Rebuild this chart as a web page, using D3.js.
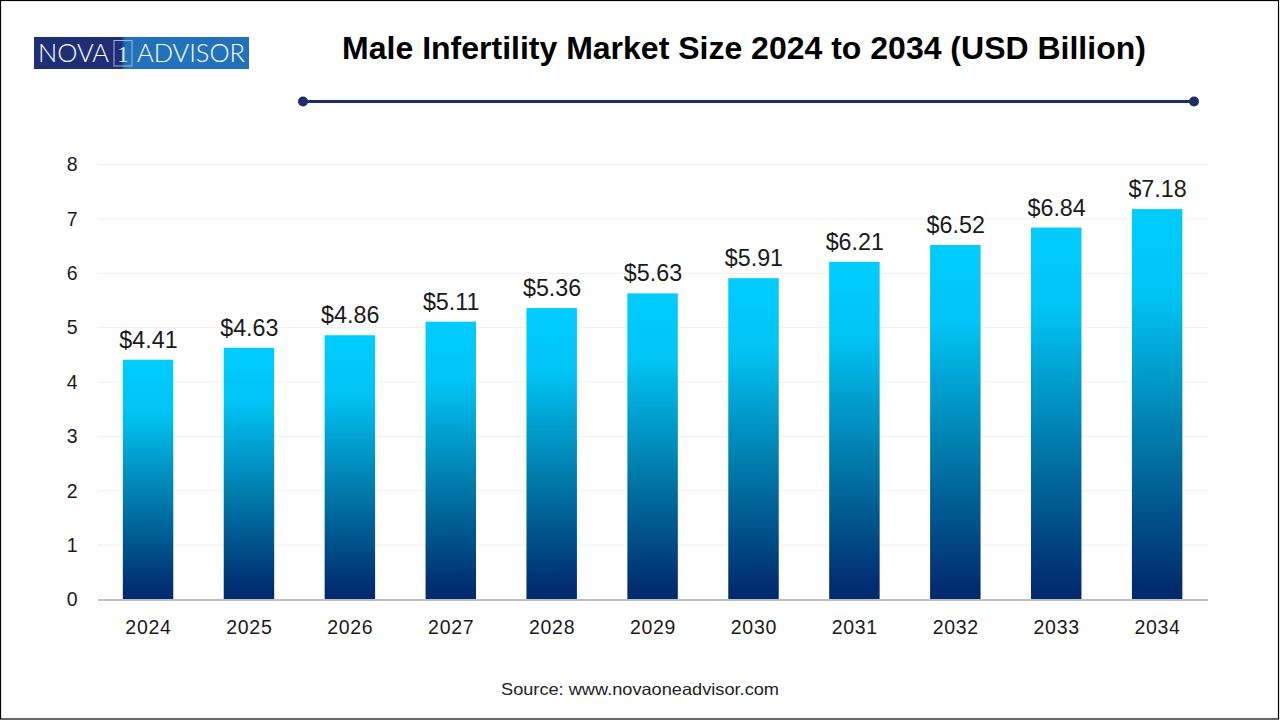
<!DOCTYPE html>
<html><head><meta charset="utf-8">
<script src="https://cdn.jsdelivr.net/npm/d3@7"></script>
<style>html,body{margin:0;padding:0;background:#fff}svg{display:block}</style>
</head><body><svg id="c" width="1280" height="720"></svg>
<script>
const years=["2024","2025","2026","2027","2028","2029","2030","2031","2032","2033","2034"];
const values=[4.41,4.63,4.86,5.11,5.36,5.63,5.91,6.21,6.52,6.84,7.18];
const yTicks=[0,1,2,3,4,5,6,7,8];
const title="Male Infertility Market Size 2024 to 2034 (USD Billion)";
const source="Source: www.novaoneadvisor.com";
const font="Liberation Sans, Arial, sans-serif";

const svg=d3.select("#c");
const defs=svg.append("defs");
const g=defs.append("linearGradient").attr("id","bar").attr("x1",0).attr("x2",0).attr("y1",0).attr("y2",1);
[[0,"#00ccff"],[0.22,"#00c4f4"],[0.6,"#0078a8"],[0.97,"#012b6f"],[1,"#012b6f"]].forEach(s=>g.append("stop").attr("offset",s[0]).attr("stop-color",s[1]));
const lg=defs.append("linearGradient").attr("id","logo").attr("x1",0).attr("x2",1).attr("y1",0).attr("y2",0);
[[0,"#1f2f75"],[0.405,"#1f2f75"],[0.425,"#2272bb"],[1,"#2272bb"]].forEach(s=>lg.append("stop").attr("offset",s[0]).attr("stop-color",s[1]));

const x=d3.scaleBand().domain(years).range([98,1208]).paddingInner(0.5).paddingOuter(0.25);
const y=d3.scaleLinear().domain([0,8]).range([599.5,164.5]);

svg.append("rect").attr("x",0.5).attr("y",0.5).attr("width",1278).attr("height",718.5)
  .attr("fill","#fff").attr("stroke","#000").attr("stroke-width",1.2);

// gridlines
svg.append("g").selectAll("line").data(yTicks.filter(d=>d>0)).join("line")
  .attr("x1",98).attr("x2",1208).attr("y1",d=>y(d)).attr("y2",d=>y(d))
  .attr("stroke","#efefef").attr("stroke-width",1);

// bars
svg.append("g").selectAll("rect").data(values).join("rect")
  .attr("x",(d,i)=>x(years[i])-0.4).attr("width",x.bandwidth())
  .attr("y",d=>y(d)).attr("height",d=>y(0)-y(d)).attr("fill","url(#bar)");

// baseline
svg.append("line").attr("x1",98).attr("x2",1208).attr("y1",600).attr("y2",600)
  .attr("stroke","#bfbfbf").attr("stroke-width",2);

// axes
const yAxis=d3.axisLeft(y).tickValues(yTicks).tickSize(0).tickPadding(0);
const ya=svg.append("g").attr("transform","translate(77.5,0)").call(yAxis);
ya.select(".domain").remove();
ya.selectAll("text").attr("font-family",font).attr("font-size",19.5).attr("fill","#1a1a1a");

const xAxis=d3.axisBottom(x).tickSize(0).tickPadding(0);
const xa=svg.append("g").attr("transform","translate(0,620.5)").call(xAxis);
xa.select(".domain").remove();
xa.selectAll("text").attr("font-family",font).attr("font-size",19.5).attr("letter-spacing",0.7).attr("fill","#1a1a1a");

// value labels
svg.append("g").selectAll("text").data(values).join("text")
  .attr("x",(d,i)=>x(years[i])+x.bandwidth()/2).attr("y",d=>y(d)-12)
  .attr("text-anchor","middle").attr("font-family",font).attr("font-size",23.3).attr("fill","#1a1a1a")
  .text(d=>"$"+d.toFixed(2));

// title
svg.append("text").attr("x",744).attr("y",59).attr("text-anchor","middle")
  .attr("font-family",font).attr("font-weight",700).attr("font-size",32).attr("fill","#000").text(title);

// rule
svg.append("line").attr("x1",303).attr("x2",1194).attr("y1",101.5).attr("y2",101.5)
  .attr("stroke","#1f2c6b").attr("stroke-width",3);
svg.append("g").selectAll("circle").data([303,1194]).join("circle")
  .attr("cx",d=>d).attr("cy",101.5).attr("r",5).attr("fill","#1f2c6b");

// source
svg.append("text").attr("x",501).attr("y",695).attr("font-family",font).attr("font-size",16.5)
  .attr("fill","#222").attr("textLength",278).attr("lengthAdjust","spacingAndGlyphs").text(source);

// logo
const logo=svg.append("g");
logo.append("rect").attr("x",34).attr("y",37).attr("width",215).attr("height",32).attr("fill","url(#logo)");
logo.append("rect").attr("x",114).attr("y",40.5).attr("width",18).attr("height",25.5)
  .attr("fill","none").attr("stroke","#9fb4d8").attr("stroke-width",1);
const lf="Lato, Open Sans, sans-serif";
logo.append("text").attr("x",38).attr("y",62).attr("font-family",lf).attr("font-size",24.5).attr("font-weight",300).attr("fill","#fff").attr("textLength",71).attr("lengthAdjust","spacingAndGlyphs").text("NOVA");
logo.append("text").attr("x",123).attr("y",61.5).attr("text-anchor","middle").attr("font-family","Liberation Serif, serif").attr("font-size",23).attr("fill","#dfe8f5").text("1");
logo.append("text").attr("x",137).attr("y",62).attr("font-family",lf).attr("font-size",24.5).attr("font-weight",300).attr("fill","#fff").attr("textLength",108).attr("lengthAdjust","spacingAndGlyphs").text("ADVISOR");
</script></body></html>
